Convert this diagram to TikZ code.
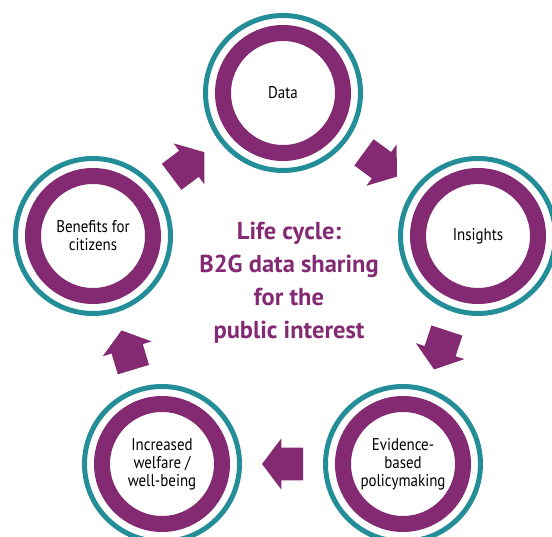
\documentclass[tikz,border=0pt]{standalone}
\usepackage{fontspec}
\setmainfont{PT Sans}
\newfontfamily\condsans{PT Sans}[FakeStretch=0.88]
\newfontfamily\titlesans{PT Sans}
\usetikzlibrary{calc}
\definecolor{purp}{RGB}{132,42,115}
\definecolor{tealring}{RGB}{35,142,152}
\tikzset{
  stage/.style={circle, draw=purp, line width=16pt, minimum size=120pt, inner sep=0pt,
    align=center, text=black, font=\condsans\fontsize{17}{18}\selectfont},
  outerring/.style={draw=tealring, line width=5pt},
  title/.style={align=center, text=purp, font=\titlesans\bfseries\fontsize{24.5}{33}\selectfont},
  blockarrow/.style={fill=purp}
}
\newcommand\cycarrow[2]{%
  \path let \p1=($(#2)-(#1)$), \n1={atan2(\y1,\x1)} in \pgfextra{\xdef\arrang{\n1}};
  \begin{scope}[shift={($(#1)!0.5!(#2)$)}, rotate=\arrang]
    \fill[blockarrow] (20.5,0) -- (1.2,25.5) -- (1.2,16.3) -- (-20.5,16.3)
      -- (-20.5,-16.3) -- (1.2,-16.3) -- (1.2,-25.5) -- cycle;
  \end{scope}}
\begin{document}
\begin{tikzpicture}[x=1pt,y=1pt]
\useasboundingbox (0,0) rectangle (552,537);
\clip (0,0) rectangle (552,537);
\node[stage] (data) at (283,444) {Data};
\node[stage] (insights) at (478,301) {Insights};
\node[stage] (evidence) at (403,73) {Evidence-\\based\\policymaking};
\node[stage] (welfare) at (162,73) {Increased\\welfare /\\well-being};
\node[stage] (benefits) at (93,301) {Benefits for\\citizens};
\foreach \n in {data,insights,evidence,welfare,benefits}
  \draw[outerring] (\n.center) circle[radius=77.5];
\cycarrow{data}{insights}
\cycarrow{insights}{evidence}
\cycarrow{evidence}{welfare}
\cycarrow{welfare}{benefits}
\cycarrow{benefits}{data}
\node[title] (centre) at (289,254) {Life cycle:\\B2G data sharing\\for the\\public interest};
\end{tikzpicture}
\end{document}
